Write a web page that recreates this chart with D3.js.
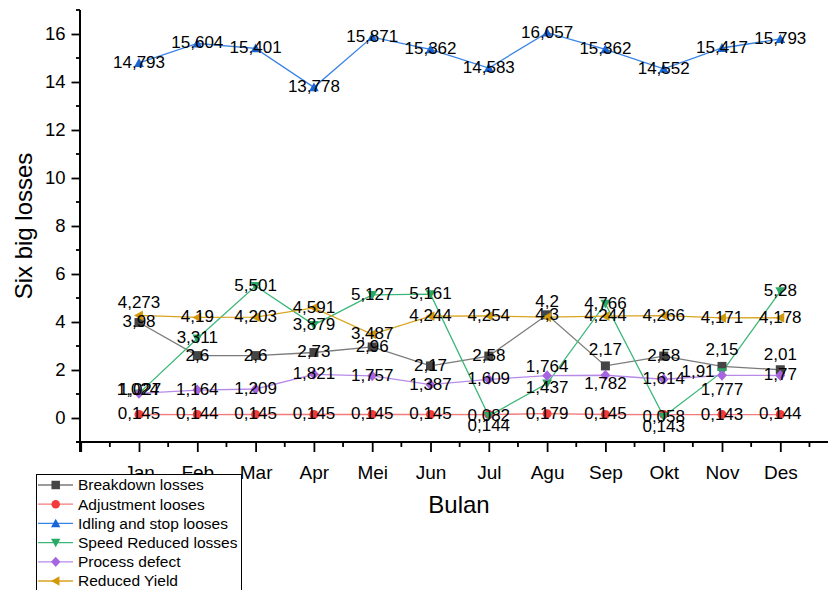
<!DOCTYPE html>
<html>
<head>
<meta charset="utf-8">
<script src="https://cdn.jsdelivr.net/npm/d3@7/dist/d3.min.js"></script>
<style>
  html, body { margin: 0; padding: 0; background: #fff; }
  svg { display: block; font-family: "Liberation Sans", Arial, sans-serif; }
</style>
</head>
<body>
<svg id="chart" width="828" height="590"></svg>
<script>
// ---------- data ----------
const months = ["Jan","Feb","Mar","Apr","Mei","Jun","Jul","Agu","Sep","Okt","Nov","Des"];

const seriesNames = ["Breakdown losses","Adjustment looses","Idling and stop looses",
                     "Speed Reduced losses","Process defect","Reduced Yield"];

const breakdown   = [3.98, 2.6, 2.6, 2.73, 2.96, 2.17, 2.58, 4.3, 2.17, 2.58, 2.15, 2.01];
const adjustment  = [0.145, 0.144, 0.145, 0.145, 0.145, 0.145, 0.144, 0.179, 0.145, 0.143, 0.143, 0.144];
const idling      = [14.793, 15.604, 15.401, 13.778, 15.871, 15.362, 14.583, 16.057, 15.362, 14.552, 15.417, 15.793];
const speed       = [1.027, 3.311, 5.501, 3.879, 5.127, 5.161, 0.082, 1.437, 4.766, 0.058, 1.91, 5.28];
const defect      = [1.024, 1.164, 1.209, 1.821, 1.757, 1.387, 1.609, 1.764, 1.782, 1.614, 1.777, 1.77];
const reducedYield= [4.273, 4.19, 4.203, 4.591, 3.487, 4.244, 4.254, 4.2, 4.244, 4.266, 4.171, 4.178];

const yTicks = [0, 2, 4, 6, 8, 10, 12, 14, 16];

// ---------- styles ----------
const styles = [
  {line: "#7a7a7a", fill: "#454545", shape: "square"},
  {line: "#f27a7a", fill: "#f23a3a", shape: "circle"},
  {line: "#3a84e6", fill: "#1a66d6", shape: "triUp"},
  {line: "#3db779", fill: "#2aa866", shape: "triDown"},
  {line: "#b88ae8", fill: "#a566e0", shape: "diamond"},
  {line: "#d9a520", fill: "#d29a0a", shape: "triLeft"}
];
// label nudges: [seriesIndex, monthIndex, dx, dy]
const nudges = [
  [5, 0, 0, -12], [3, 0, 1, -3], [4, 0, -1, -3],
  [1, 6, 0, 12], [1, 9, 0, 12],
  [5, 7, 0, -15],
  [4, 7, 0, -9], [3, 7, 0, 5],
  [0, 8, 0, -16], [4, 8, 0, 9],
  [0, 10, 0, -16], [3, 10, -24, 0], [4, 10, 0, 15],
  [0, 11, 0, -15]
];

const allSeries = [breakdown, adjustment, idling, speed, defect, reducedYield];

// ---------- layout ----------
const svg = d3.select("#chart");
const x = d3.scaleLinear().domain([0, 13]).range([80.7, 80.7 + 13 * 58.3]);
const y = d3.scaleLinear().domain([-1, 17]).range([442, 10]);

function symbolPath(shape, s) {
  if (shape === "square") return `M${-s/2},${-s/2}h${s}v${s}h${-s}Z`;
  if (shape === "circle") return d3.symbol(d3.symbolCircle, Math.PI * (s/2) * (s/2))();
  const h = s * 0.55;
  if (shape === "triUp") return `M0,${-h}L${h},${h*0.8}L${-h},${h*0.8}Z`;
  if (shape === "triDown") return `M0,${h}L${h},${-h*0.8}L${-h},${-h*0.8}Z`;
  if (shape === "triLeft") return `M${-h},0L${h*0.8},${-h}L${h*0.8},${h}Z`;
  if (shape === "diamond") return `M0,${-h*1.1}L${h},0L0,${h*1.1}L${-h},0Z`;
}

// ---------- axes ----------
const yAxis = d3.axisLeft(y).tickValues(yTicks).tickSize(8.5).tickPadding(6).tickSizeOuter(0);
const gy = svg.append("g").attr("transform", "translate(80,0)").call(yAxis);
gy.select(".domain").remove();
gy.selectAll(".tick line").attr("stroke", "#000").attr("stroke-width", 1.8);
gy.selectAll(".tick text").attr("font-size", 18.5).attr("fill", "#000")
  .attr("font-family", "Liberation Sans, Arial, sans-serif");
const yMinor = d3.range(-1, 18, 2);
svg.append("g").selectAll("line").data(yMinor).join("line")
  .attr("x1", 76).attr("x2", 80).attr("y1", d => y(d)).attr("y2", d => y(d))
  .attr("stroke", "#000").attr("stroke-width", 1.8);
svg.append("line").attr("x1", 80).attr("x2", 80).attr("y1", y(17)).attr("y2", 452)
  .attr("stroke", "#000").attr("stroke-width", 2);

const xAxis = d3.axisBottom(x).tickValues(d3.range(0, 14)).tickSize(10).tickPadding(14)
  .tickFormat(d => (d >= 1 && d <= 12) ? months[d - 1] : "").tickSizeOuter(0);
const gx = svg.append("g").attr("transform", "translate(0,442)").call(xAxis);
gx.select(".domain").remove();
gx.selectAll(".tick line").attr("stroke", "#000").attr("stroke-width", 1.8);
gx.selectAll(".tick text").attr("font-size", 19).attr("fill", "#000")
  .attr("font-family", "Liberation Sans, Arial, sans-serif");
const xMinor = d3.range(0.5, 13, 1);
svg.append("g").selectAll("line").data(xMinor).join("line")
  .attr("x1", d => x(d)).attr("x2", d => x(d)).attr("y1", 442).attr("y2", 447)
  .attr("stroke", "#000").attr("stroke-width", 1.8);
svg.append("line").attr("x1", 76).attr("x2", 828).attr("y1", 442).attr("y2", 442)
  .attr("stroke", "#000").attr("stroke-width", 2);

// titles
svg.append("text").attr("x", 459).attr("y", 513).attr("text-anchor", "middle")
  .attr("font-size", 24).attr("fill", "#000").text("Bulan");
svg.append("text").attr("transform", "translate(32,226) rotate(-90)").attr("text-anchor", "middle")
  .attr("font-size", 24).attr("fill", "#000").text("Six big losses");

// ---------- series ----------
const line = d3.line().x((d, i) => x(i + 1)).y(d => y(d));
allSeries.forEach((vals, si) => {
  svg.append("path").datum(vals).attr("d", line).attr("fill", "none")
    .attr("stroke", styles[si].line).attr("stroke-width", 1.3);
});
allSeries.forEach((vals, si) => {
  svg.append("g").selectAll("path").data(vals).join("path")
    .attr("transform", (d, i) => `translate(${x(i + 1)},${y(d)})`)
    .attr("d", symbolPath(styles[si].shape, 9))
    .attr("fill", styles[si].fill);
});
const fmt = v => String(v).replace(".", ",");
allSeries.forEach((vals, si) => {
  svg.append("g").selectAll("text").data(vals).join("text")
    .attr("x", (d, i) => {
      const n = nudges.find(k => k[0] === si && k[1] === i);
      return x(i + 1) + (n ? n[2] : 0);
    })
    .attr("y", (d, i) => {
      const n = nudges.find(k => k[0] === si && k[1] === i);
      return y(d) - 1 + (n ? n[3] : 0);
    })
    .attr("dy", "0.35em").attr("text-anchor", "middle")
    .attr("font-size", 17).attr("fill", "#000")
    .text(d => fmt(d));
});

// ---------- legend ----------
const lg = svg.append("g");
lg.append("rect").attr("x", 36.5).attr("y", 474.5).attr("width", 205).attr("height", 130)
  .attr("fill", "#fff").attr("stroke", "#000").attr("stroke-width", 1);
seriesNames.forEach((name, si) => {
  const cy = 485 + si * 19.2;
  lg.append("line").attr("x1", 38).attr("x2", 73).attr("y1", cy).attr("y2", cy)
    .attr("stroke", styles[si].line).attr("stroke-width", 1.3);
  lg.append("path").attr("transform", `translate(55.7,${cy})`)
    .attr("d", symbolPath(styles[si].shape, 8.5)).attr("fill", styles[si].fill);
  lg.append("text").attr("x", 78).attr("y", cy).attr("dy", "0.35em")
    .attr("font-size", 15.5).attr("fill", "#000").text(name);
});
</script>
</body>
</html>
